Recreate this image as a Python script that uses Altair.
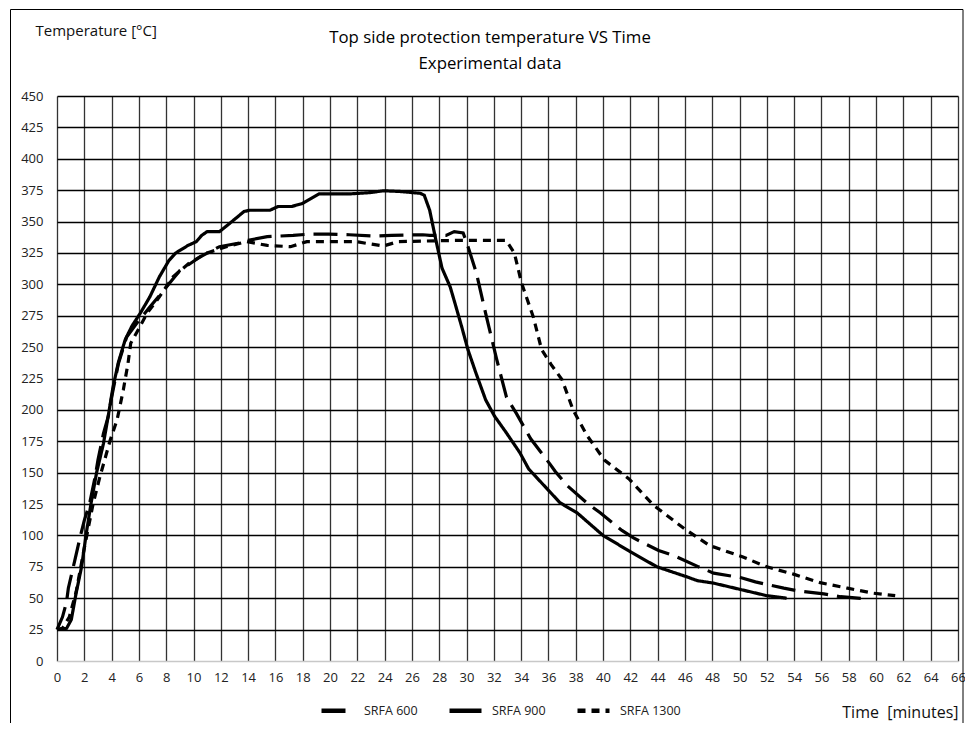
import altair as alt
import pandas as pd

# ---------------- data ----------------
series_names = ["SRFA 600", "SRFA 900", "SRFA 1300"]

t600 = [0, 0.4, 0.7, 0.83, 1.3, 1.7, 2.0, 2.4, 2.8, 3.0, 3.4, 3.76, 4.0, 4.5, 5.1, 5.84, 6.8, 7.8, 9.0,
        10.5, 11.9, 13.4, 14.0, 15.4, 17.3, 18.5, 19.9, 21.4, 23.2, 24.5, 26.8, 27.3, 28.5, 29.1,
        29.75, 30.11, 30.72, 31.46, 32.19, 32.93, 33.66, 34.7, 36.1, 36.5, 37.34, 38.81, 39.79,
        41.38, 42.23, 44.07, 45.17, 47.0, 48.1, 50.06, 51.16, 53.24, 54.21, 56.17, 57.39, 59.47]
v600 = [25, 35, 47, 58, 80, 99, 112, 126, 147, 160, 181, 195, 210, 237, 258, 269, 282, 295, 311,
        322, 330, 333, 335, 338, 339, 340, 340, 339.5, 338.5, 339, 339.5, 339, 339, 342,
        341, 330, 309, 274, 241, 210, 197, 177, 157, 151, 140, 126, 118,
        104, 98, 88, 84, 75, 70, 66.5, 63, 58, 56, 53.4, 51.2, 49.4]

t900 = [0, 0.7, 1.05, 1.4, 1.8, 2.15, 2.5, 2.9, 3.4, 3.75, 4.1, 4.5, 5.0, 5.5, 6.1, 6.8, 7.5, 8.2, 8.7,
        9.6, 10.2, 10.6, 11.0, 11.9, 12.7, 13.7, 14.1, 15.6, 16.2, 17.2, 18.0, 18.4, 19.2, 21.4,
        22.9, 23.9, 25.1, 26.6, 26.9, 27.3, 27.7, 28.2, 28.8, 29.15, 29.65, 30.1, 30.7, 31.4,
        32.05, 32.9, 33.9, 34.55, 35.4, 36.85, 38.1, 40.0, 42.0, 43.95, 46.15, 46.9, 48.1,
        50.05, 52.0, 53.45]
v900 = [25, 26, 33, 54, 75, 102, 126, 150, 173, 195, 218, 238, 256, 267, 277, 290, 306, 319, 325,
        331, 334, 339, 342, 342, 349, 358, 359, 359, 362, 362, 364.5, 367, 372, 372,
        373, 374.5, 374, 372.5, 371, 359, 338, 313, 298, 285, 266, 248, 229, 208,
        195, 182, 166, 153, 143, 126, 118, 100, 87, 75, 67, 64, 62,
        57, 52, 50]

t1300 = [0, 0.4, 0.9, 1.4, 2.0, 2.66, 3.15, 3.9, 4.4, 4.86, 5.2, 5.4, 5.96, 6.6, 7.5, 8.5, 9.7,
         11.0, 12.4, 13.9, 15.4, 17.1, 18.3, 21.9, 23.9, 25.0, 29.2, 32.9, 33.5, 34.03, 34.89,
         35.5, 36.2, 37.0, 37.8, 38.8, 40.1, 41.9, 43.7, 46.0, 47.8, 50.2, 52.0, 54.0, 55.9,
         57.9, 59.8, 61.4]
v1300 = [25, 26, 35, 55, 90, 126, 147, 176, 192, 216, 237, 253, 264, 277, 290, 306, 317,
         325, 330, 334, 331, 330, 334, 334, 330.5, 334, 335, 335, 325, 301, 274,
         248, 236, 224, 200, 180, 160, 145, 124, 105, 92, 83, 75, 69, 62.4,
         58, 54, 52]

x_ticks = list(range(0, 67, 2))
y_ticks = list(range(0, 451, 25))
title_lines = ["Top side protection temperature VS Time", "Experimental data"]
y_title = "Temperature [°C]"
x_title = "Time\u00a0\u00a0[minutes]"

rows = []
for name, ts, vs in zip(series_names, [t600, t900, t1300], [v600, v900, v1300]):
    for t, v in zip(ts, vs):
        rows.append({"series": name, "t": t, "temp": v})
df = pd.DataFrame(rows)

FONT = "Open Sans"
W, H = 901, 565

lines = alt.Chart(df).mark_line(color="black", strokeWidth=3.2).encode(
    x=alt.X(
        "t:Q",
        scale=alt.Scale(domain=[0, 66], nice=False, zero=False),
        axis=alt.Axis(
            values=x_ticks, title=x_title, grid=True, gridColor="#333333", gridWidth=1.3,
            domain=True, domainColor="#c8c8c8", domainWidth=1, ticks=False,
            labelPadding=10, labelFontSize=13, labelColor="#222222", labelFont=FONT,
            labelFlush=False, labelOverlap=False,
            titleFont=FONT, titleFontSize=16, titleFontWeight="normal", titleColor="#111111",
            titleX=W, titleY=51, titleAlign="right", titleBaseline="middle",
        ),
    ),
    y=alt.Y(
        "temp:Q",
        scale=alt.Scale(domain=[0, 450], nice=False),
        axis=alt.Axis(
            values=y_ticks, title=y_title, grid=True,
            gridColor=alt.condition("datum.value == 0", alt.value("#c8c8c8"), alt.value("black")),
            gridWidth=1.7, domain=False, ticks=False,
            labelPadding=14, labelFontSize=13, labelColor="#222222", labelFont=FONT,
            labelOverlap=False,
            titleFont=FONT, titleFontSize=15, titleFontWeight="normal", titleColor="#111111",
            titleAngle=0, titleX=-22, titleY=-66, titleAlign="left", titleBaseline="middle",
        ),
    ),
    strokeDash=alt.StrokeDash(
        "series:N",
        scale=alt.Scale(domain=series_names, range=[[24, 9], [1, 0], [8, 6]]),
        legend=alt.Legend(
            title=None, orient="none", legendX=262, legendY=596, direction="horizontal",
            symbolType="stroke", symbolSize=1024, symbolStrokeWidth=4.5,
            symbolStrokeColor="black", labelFont=FONT, labelFontSize=12.5,
            labelColor="#222222", labelOffset=8, columnPadding=22, labelLimit=200,
        ),
    ),
)

one = pd.DataFrame({"k": [0]})

frame = alt.Chart(one).mark_rect(fill="transparent", stroke="black", strokeWidth=1).encode(
    x=alt.value(-46.5), x2=alt.value(906), y=alt.value(-86.5), y2=alt.value(660)
)

title1 = alt.Chart(one).mark_text(
    font=FONT, fontSize=16.8, color="black", align="center", baseline="middle"
).encode(x=alt.value(433), y=alt.value(-58), text=alt.value(title_lines[0]))

title2 = alt.Chart(one).mark_text(
    font=FONT, fontSize=16.8, color="black", align="center", baseline="middle"
).encode(x=alt.value(433), y=alt.value(-32), text=alt.value(title_lines[1]))

chart = alt.layer(frame, lines, title1, title2).properties(
    width=W, height=H,
    padding={"left": 49, "top": 88, "right": 7, "bottom": 62},
    autosize=alt.AutoSizeParams(type="none"),
    background="white",
).configure_view(stroke="transparent")

chart.save("out.html", embed_options={"renderer": "svg", "actions": False})
